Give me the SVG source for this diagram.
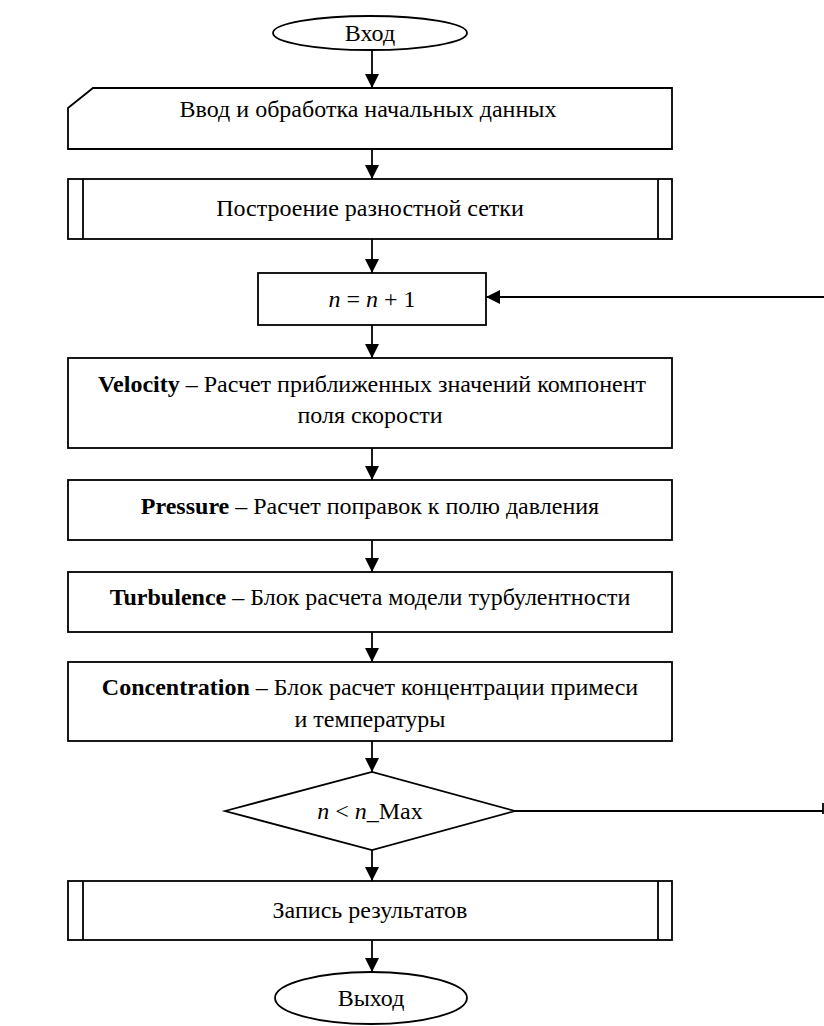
<svg xmlns="http://www.w3.org/2000/svg" width="824" height="1026" viewBox="0 0 824 1026">
<style>
.s{fill:#fff;stroke:#000;stroke-width:1.8}
.l{fill:none;stroke:#000;stroke-width:1.8}
text{font-family:"Liberation Serif","Times New Roman",serif;font-size:24px;fill:#000;text-anchor:middle}
.b{font-weight:bold}
.i{font-style:italic}
</style>
<defs>
<marker id="ah" markerUnits="userSpaceOnUse" markerWidth="14" markerHeight="14" viewBox="0 0 14 14" refX="14" refY="7" orient="auto">
<path d="M0,0 L14,7 L0,14 Z" fill="#000"/>
</marker>
</defs>
<g id="connectors">
<line class="l" x1="372" y1="50" x2="372" y2="88" marker-end="url(#ah)"/>
<line class="l" x1="372" y1="149" x2="372" y2="179" marker-end="url(#ah)"/>
<line class="l" x1="372" y1="239" x2="372" y2="273" marker-end="url(#ah)"/>
<line class="l" x1="824" y1="297" x2="486" y2="297" marker-end="url(#ah)"/>
<line class="l" x1="372" y1="325" x2="372" y2="358" marker-end="url(#ah)"/>
<line class="l" x1="372" y1="448" x2="372" y2="480" marker-end="url(#ah)"/>
<line class="l" x1="372" y1="540" x2="372" y2="572" marker-end="url(#ah)"/>
<line class="l" x1="372" y1="632" x2="372" y2="662" marker-end="url(#ah)"/>
<line class="l" x1="372" y1="741" x2="372" y2="772" marker-end="url(#ah)"/>
<line class="l" x1="515" y1="811" x2="823" y2="811"/>
<line class="l" x1="823" y1="803" x2="823" y2="814"/>
<line class="l" x1="372" y1="850" x2="372" y2="881" marker-end="url(#ah)"/>
<line class="l" x1="372" y1="940" x2="372" y2="972" marker-end="url(#ah)"/>
</g>
<g id="start">
<ellipse class="s" cx="370" cy="33" rx="97" ry="17"/>
<text x="370" y="41">Вход</text>
</g>
<g id="input">
<path class="s" d="M68,108 L93,88 L672,88 L672,149 L68,149 Z"/>
<text x="368" y="117">Ввод и обработка начальных данных</text>
</g>
<g id="grid">
<rect class="s" x="68" y="179" width="604" height="60"/>
<line class="l" x1="83" y1="179" x2="83" y2="239"/>
<line class="l" x1="658" y1="179" x2="658" y2="239"/>
<text x="370" y="216">Построение разностной сетки</text>
</g>
<g id="increment">
<rect class="s" x="258" y="273" width="228" height="52"/>
<text x="372" y="307"><tspan class="i">n</tspan> = <tspan class="i">n</tspan> + 1</text>
</g>
<g id="velocity">
<rect class="s" x="68" y="358" width="604" height="90"/>
<text x="372" y="392"><tspan class="b">Velocity</tspan> – Расчет приближенных значений компонент</text>
<text x="370" y="423">поля скорости</text>
</g>
<g id="pressure">
<rect class="s" x="68" y="480" width="604" height="60"/>
<text x="370" y="514"><tspan class="b">Pressure</tspan> – Расчет поправок к полю давления</text>
</g>
<g id="turbulence">
<rect class="s" x="68" y="572" width="604" height="60"/>
<text x="370" y="605"><tspan class="b">Turbulence</tspan> – Блок расчета модели турбулентности</text>
</g>
<g id="concentration">
<rect class="s" x="68" y="662" width="604" height="79"/>
<text x="370" y="695"><tspan class="b">Concentration</tspan> – Блок расчет концентрации примеси</text>
<text x="370" y="727">и температуры</text>
</g>
<g id="decision">
<path class="s" d="M225,811 L372,772 L515,811 L372,850 Z"/>
<text x="370" y="819"><tspan class="i">n</tspan> &lt; <tspan class="i">n</tspan>_Max</text>
</g>
<g id="output">
<rect class="s" x="68" y="881" width="604" height="59"/>
<line class="l" x1="83" y1="881" x2="83" y2="940"/>
<line class="l" x1="658" y1="881" x2="658" y2="940"/>
<text x="370" y="918">Запись результатов</text>
</g>
<g id="end">
<ellipse class="s" cx="371" cy="998" rx="96" ry="26"/>
<text x="371" y="1006">Выход</text>
</g>
</svg>
